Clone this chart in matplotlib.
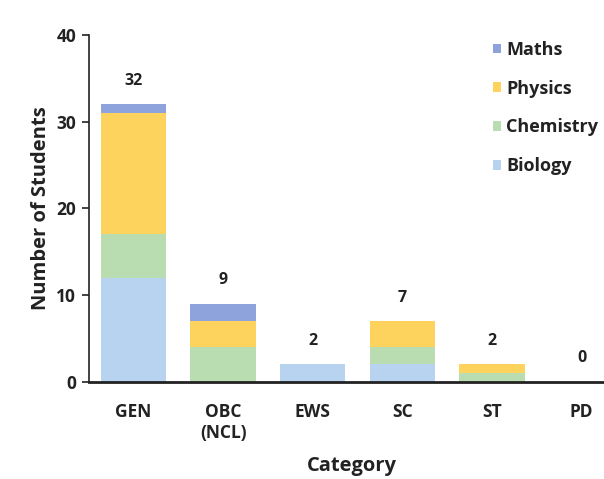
import matplotlib
matplotlib.use("Agg")
import matplotlib.pyplot as plt
import numpy as np

plt.rcParams['font.family'] = ['Open Sans', 'DejaVu Sans']

categories = ["GEN", "OBC\n(NCL)", "EWS", "SC", "ST", "PD"]
biology = [12, 0, 2, 2, 0, 0]
chemistry = [5, 4, 0, 2, 1, 0]
physics = [14, 3, 0, 3, 1, 0]
maths = [1, 2, 0, 0, 0, 0]

subjects = ["Biology", "Chemistry", "Physics", "Maths"]
series = [biology, chemistry, physics, maths]
colors = ["#b7d3ef", "#b9ddb0", "#fdd35e", "#8ea3dc"]
ink = "#222222"

fig = plt.figure(figsize=(6.04, 4.79), dpi=100)
ax = fig.add_axes([0.147, 0.203, 0.853, 0.724])

x = np.arange(len(categories))
bottom = np.zeros(len(categories))
handles = []
for name, vals, c in zip(subjects, series, colors):
    b = ax.bar(x, vals, width=0.73, bottom=bottom, color=c, label=name)
    handles.append(b)
    bottom += np.array(vals)

for xi, tot in zip(x, bottom):
    ax.annotate(f"{int(tot)}", (xi, tot), xytext=(0, 11), textcoords="offset points",
                ha="center", va="bottom", fontsize=11.5, fontweight="bold", color=ink)

ax.set_xlim(-0.5, 5.25)
ax.set_ylim(0, 40)
ax.set_yticks([0, 10, 20, 30, 40])
ax.set_xticks(x)
ax.set_xticklabels(categories, fontsize=12.5, fontweight="bold", color=ink, linespacing=1.25)
ax.tick_params(axis="y", labelsize=12.5, length=5, width=1.2, colors=ink, pad=4)
for lab in ax.get_yticklabels():
    lab.set_fontweight("bold")
ax.tick_params(axis="x", length=0, pad=15)

ax.spines["top"].set_visible(False)
ax.spines["right"].set_visible(False)
ax.spines["left"].set_linewidth(1.2)
ax.spines["bottom"].set_linewidth(2.0)
ax.spines["left"].set_color(ink)
ax.spines["bottom"].set_color(ink)

ax.set_ylabel("Number of Students", fontsize=14.5, fontweight="bold", color=ink, labelpad=4)
fig.text(352 / 604, 1 - 466 / 479, "Category", ha="center", va="center",
         fontsize=14.5, fontweight="bold", color=ink)

leg = ax.legend(handles[::-1], subjects[::-1], loc="upper right", bbox_to_anchor=(1.02, 1.03),
                frameon=False, handlelength=0.45, handleheight=0.45, handletextpad=0.3,
                labelspacing=1.15, prop={"weight": "bold", "size": 13})
for t in leg.get_texts():
    t.set_color(ink)

fig.savefig("out.png", dpi=100)
